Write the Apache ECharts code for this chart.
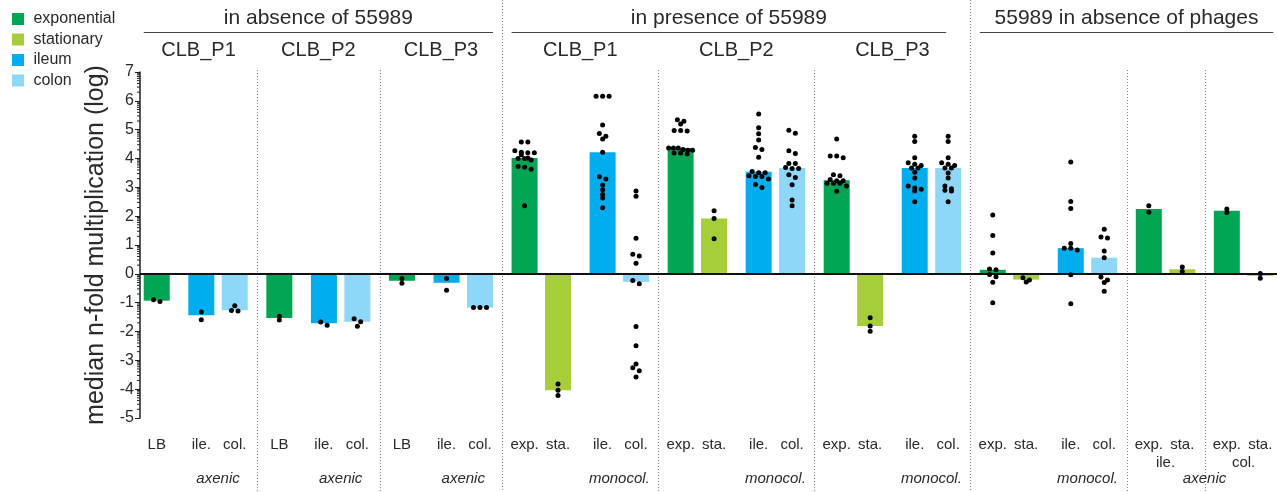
<!DOCTYPE html>
<html>
<head>
<meta charset="utf-8">
<title>median n-fold multiplication</title>
<script src="https://cdn.jsdelivr.net/npm/echarts@6.0.0/dist/echarts.min.js"></script>
<style>
  html, body { margin: 0; padding: 0; background: #fff; }
  #chart { width: 1277px; height: 492px; }
</style>
</head>
<body>
<div id="chart"></div>
<script>
// all values are log10 of the n-fold multiplication
const seriesNames = ['exponential', 'stationary', 'ileum', 'colon'];

const tickLabels = [
  'LB', 'ile.', 'col.', 'LB', 'ile.', 'col.', 'LB', 'ile.', 'col.',
  'exp.', 'sta.', 'ile.', 'col.', 'exp.', 'sta.', 'ile.', 'col.', 'exp.', 'sta.', 'ile.', 'col.',
  'exp.', 'sta.', 'ile.', 'col.', 'exp.', 'sta.', 'exp.', 'sta.'
];
const barKinds = [
  'exponential', 'ileum', 'colon', 'exponential', 'ileum', 'colon', 'exponential', 'ileum', 'colon',
  'exponential', 'stationary', 'ileum', 'colon', 'exponential', 'stationary', 'ileum', 'colon',
  'exponential', 'stationary', 'ileum', 'colon', 'exponential', 'stationary', 'ileum', 'colon',
  'exponential', 'stationary', 'exponential', 'stationary'
];
const barPanel = [0, 0, 0, 1, 1, 1, 2, 2, 2, 3, 3, 3, 3, 4, 4, 4, 4, 5, 5, 5, 5, 6, 6, 6, 6, 7, 7, 8, 8];

const medians = [
  -0.93, -1.44, -1.26, -1.53, -1.71, -1.66, -0.24, -0.31, -1.17,
  4.02, -4.04, 4.22, -0.28,
  4.36, 1.92, 3.54, 3.67,
  3.25, -1.81, 3.67, 3.67,
  0.14, -0.20, 0.89, 0.56,
  2.25, 0.16, 2.19, -0.07
];

const dots = [
  [-0.90, -0.96],
  [-1.32, -1.59],
  [-1.11, -1.27, -1.29],
  [-1.47, -1.60],
  [-1.67, -1.78],
  [-1.56, -1.66, -1.82],
  [-0.16, -0.33],
  [-0.16, -0.57],
  [-1.17, -1.17, -1.17],
  [4.57, 4.57, 4.27, 4.22, 4.20, 4.20, 4.13, 4.02, 4.00, 4.00, 3.95, 3.72, 3.70, 3.63, 2.36],
  [-3.82, -4.04, -4.22],
  [6.16, 6.16, 6.16, 5.16, 4.87, 4.77, 4.68, 4.22, 3.37, 3.29, 3.08, 2.92, 2.75, 2.63, 2.29],
  [2.87, 2.69, 1.23, 0.68, 0.62, 0.37, -0.23, -0.34, -1.83, -2.49, -3.13, -3.26, -3.36, -3.58],
  [5.34, 5.29, 5.20, 4.97, 4.97, 4.95, 4.36, 4.36, 4.36, 4.31, 4.29, 4.29, 4.19, 4.19, 4.16],
  [2.19, 1.92, 1.22],
  [5.54, 5.07, 4.86, 4.64, 4.38, 4.31, 4.04, 3.55, 3.51, 3.51, 3.40, 3.38, 3.38, 3.29, 3.10, 2.99],
  [4.98, 4.88, 4.27, 4.17, 3.83, 3.83, 3.69, 3.65, 3.65, 3.44, 3.34, 3.09, 2.56, 2.36],
  [4.68, 4.09, 4.09, 4.03, 3.44, 3.40, 3.27, 3.23, 3.23, 3.14, 3.14, 3.14, 3.05, 2.86],
  [-1.52, -1.81, -1.99],
  [4.77, 4.59, 4.03, 3.85, 3.80, 3.76, 3.67, 3.67, 3.52, 3.32, 3.05, 2.98, 2.93, 2.87, 2.50],
  [4.77, 4.59, 4.03, 3.85, 3.80, 3.76, 3.67, 3.67, 3.50, 3.32, 3.05, 2.95, 2.90, 2.87, 2.50],
  [2.04, 1.33, 0.72, 0.17, 0.14, -0.02, -0.10, -0.29, -1.00],
  [-0.14, -0.21, -0.28],
  [3.88, 2.51, 2.27, 1.05, 0.89, 0.89, 0.83, -0.03, -1.04],
  [1.55, 1.28, 1.24, 0.79, 0.56, -0.11, -0.21, -0.30, -0.60],
  [2.36, 2.14],
  [0.24, 0.08],
  [2.25, 2.13],
  [0.01, -0.15]
];

const panelTitles = ['CLB_P1', 'CLB_P2', 'CLB_P3', 'CLB_P1', 'CLB_P2', 'CLB_P3', '', '', ''];
const groupTitles = ['in absence of 55989', 'in presence of 55989', '55989 in absence of phages'];
const groupPanels = [[0, 2], [3, 5], [6, 8]];
const condTexts = ['axenic', 'axenic', 'axenic', 'monocol.', 'monocol.', 'monocol.', 'monocol.', 'axenic'];
const condBars = [[1, 2], [4, 5], [7, 8], [11, 12], [15, 16], [19, 20], [23, 24], [25, 28]];
const sampleTexts = ['ile.', 'col.'];
const sampleBars = [[25, 26], [27, 28]];

const colors = {
  exponential: '#00a651',
  stationary: '#a6ce39',
  ileum: '#00aeef',
  colon: '#8dd8f8'
};
const FONT = '"Liberation Sans", Arial, sans-serif';
const TEXT = '#2a2a2a';

// slot positions: 3 slots between bars of a pair, 4 before an ileum bar or a new panel
const xs = [];
let pos = 1;
barKinds.forEach((k, i) => {
  if (i > 0) pos += (barPanel[i] !== barPanel[i - 1] || k === 'ileum') ? 4 : 3;
  xs.push(pos + 0.5);
});
const xMax = xs[xs.length - 1] + 1.5;

// prism-like spread: dots of nearly the same height are put side by side
function spread (vals) {
  const s = vals.slice().sort((a, b) => b - a);
  const out = [];
  let i = 0;
  while (i < s.length) {
    let j = i;
    while (j < s.length && s[i] - s[j] < 0.12) j++;
    const n = j - i;
    const step = n > 1 ? Math.min(6.5, 24 / (n - 1)) : 0;
    for (let k = 0; k < n; k++) out.push([s[i + k], (k - (n - 1) / 2) * step]);
    i = j;
  }
  return out;
}

const dotData = [];
dots.forEach((vals, i) => {
  spread(vals).forEach(([v, dx]) => {
    dotData.push({ value: [xs[i], v], symbolOffset: [dx, 0] });
  });
});

// log-spaced minor ticks on the y axis
const minorTicks = [];
for (let n = -5; n < 7; n++) {
  for (let k = 2; k <= 9; k++) minorTicks.push([0, n + Math.log10(k)]);
}

const barSeries = seriesNames.map((name, si) => ({
  name: name,
  type: 'bar',
  barWidth: 26,
  barGap: '-100%',
  itemStyle: { color: colors[name] },
  data: xs.map((x, i) => [x, medians[i]]).filter((d, i) => barKinds[i] === name),
  markLine: si === 0 ? {
    silent: true,
    symbol: 'none',
    label: { show: false },
    lineStyle: { color: '#111', width: 2, type: 'solid' },
    data: [{ yAxis: 0 }]
  } : undefined
}));

const chart = echarts.init(document.getElementById('chart'))

const option = {
  animation: false,
  textStyle: { fontFamily: FONT },
  legend: {
    data: seriesNames,
    orient: 'vertical',
    left: 12,
    top: 11,
    padding: 0,
    icon: 'rect',
    itemWidth: 12,
    itemHeight: 12,
    itemGap: 4.5,
    selectedMode: false,
    formatter: name => ' ' + name,
    textStyle: { fontSize: 16, color: TEXT, fontFamily: FONT }
  },
  grid: { left: 140, right: 0, top: 72, bottom: 74, containLabel: false },
  xAxis: {
    type: 'value',
    min: 0,
    max: xMax,
    axisLine: { show: false },
    axisTick: { show: false },
    splitLine: { show: false },
    axisLabel: {
      customValues: xs,
      formatter: v => tickLabels[xs.indexOf(v)] || '',
      margin: 19,
      fontSize: 15,
      color: TEXT,
      fontFamily: FONT
    }
  },
  yAxis: {
    type: 'value',
    min: -5,
    max: 7,
    interval: 1,
    name: 'median n-fold multiplication (log)',
    nameLocation: 'middle',
    nameGap: 24,
    nameTextStyle: { fontSize: 25, color: TEXT, fontFamily: FONT },
    axisLine: { show: true, lineStyle: { color: '#222', width: 1.5 } },
    axisTick: { show: true, length: 5, lineStyle: { color: '#222' } },
    axisLabel: { fontSize: 16, color: TEXT, margin: 6, fontFamily: FONT },
    splitLine: { show: false }
  },
  series: [
    ...barSeries,
    {
      name: 'minor ticks',
      type: 'custom',
      silent: true,
      data: minorTicks,
      renderItem: (params, api) => {
        const p = api.coord([0, api.value(1)]);
        return {
          type: 'line',
          shape: { x1: p[0] - 3, y1: p[1], x2: p[0], y2: p[1] },
          style: { stroke: '#222', lineWidth: 1 }
        };
      }
    },
    {
      name: 'samples',
      type: 'scatter',
      symbol: 'circle',
      symbolSize: 5,
      z: 5,
      itemStyle: { color: '#000', opacity: 1 },
      data: dotData
    }
  ]
};
chart.setOption(option);

// headers, separators and lower labels, placed through the x scale
const px = x => chart.convertToPixel({ gridIndex: 0 }, [x, 0])[0];
const panels = panelTitles.map((t, p) => {
  const idx = barPanel.map((q, i) => q === p ? i : -1).filter(i => i >= 0);
  return { first: xs[idx[0]], last: xs[idx[idx.length - 1]] };
});
const bounds = panels.map((pn, p) => p < panels.length - 1 ? (pn.last + panels[p + 1].first) / 2 : xMax);
const dotted = { stroke: '#808080', lineWidth: 1, lineDash: [1, 2] };
const lineTrim = [0, 15, 0]; // the middle header rule stops short of the last bar
const graphic = [];

bounds.slice(0, -1).forEach((b, p) => {
  const full = groupPanels.some(g => g[0] === p + 1);
  const x = Math.round(px(b)) + 0.5;
  graphic.push({ type: 'line', silent: true, shape: { x1: x, y1: full ? 0 : 70, x2: x, y2: 492 }, style: dotted });
});

panelTitles.forEach((t, p) => {
  if (!t) return;
  const left = p === 0 ? 0 : bounds[p - 1];
  graphic.push({
    type: 'text', x: px((left + bounds[p]) / 2), y: 50,
    style: { text: t, fontSize: 20, fill: TEXT, fontFamily: FONT, align: 'center', verticalAlign: 'middle' }
  });
});

groupTitles.forEach((t, g) => {
  const x1 = px(panels[groupPanels[g][0]].first) - 13;
  const x2 = Math.min(px(panels[groupPanels[g][1]].last) + 13 - lineTrim[g], 1277);
  graphic.push({ type: 'line', silent: true, shape: { x1: x1, y1: 32.5, x2: x2, y2: 32.5 }, style: { stroke: '#444', lineWidth: 1 } });
  graphic.push({
    type: 'text', x: (x1 + x2) / 2, y: 18,
    style: { text: t, fontSize: 21, fill: TEXT, fontFamily: FONT, align: 'center', verticalAlign: 'middle' }
  });
});

condTexts.forEach((t, c) => {
  graphic.push({
    type: 'text', x: px((xs[condBars[c][0]] + xs[condBars[c][1]]) / 2), y: 479,
    style: { text: t, fontSize: 15, fontStyle: 'italic', fill: TEXT, fontFamily: FONT, align: 'center', verticalAlign: 'middle' }
  });
});

sampleTexts.forEach((t, c) => {
  graphic.push({
    type: 'text', x: px((xs[sampleBars[c][0]] + xs[sampleBars[c][1]]) / 2), y: 463,
    style: { text: t, fontSize: 15, fill: TEXT, fontFamily: FONT, align: 'center', verticalAlign: 'middle' }
  });
});

chart.setOption({ graphic: graphic });
</script>
</body>
</html>
